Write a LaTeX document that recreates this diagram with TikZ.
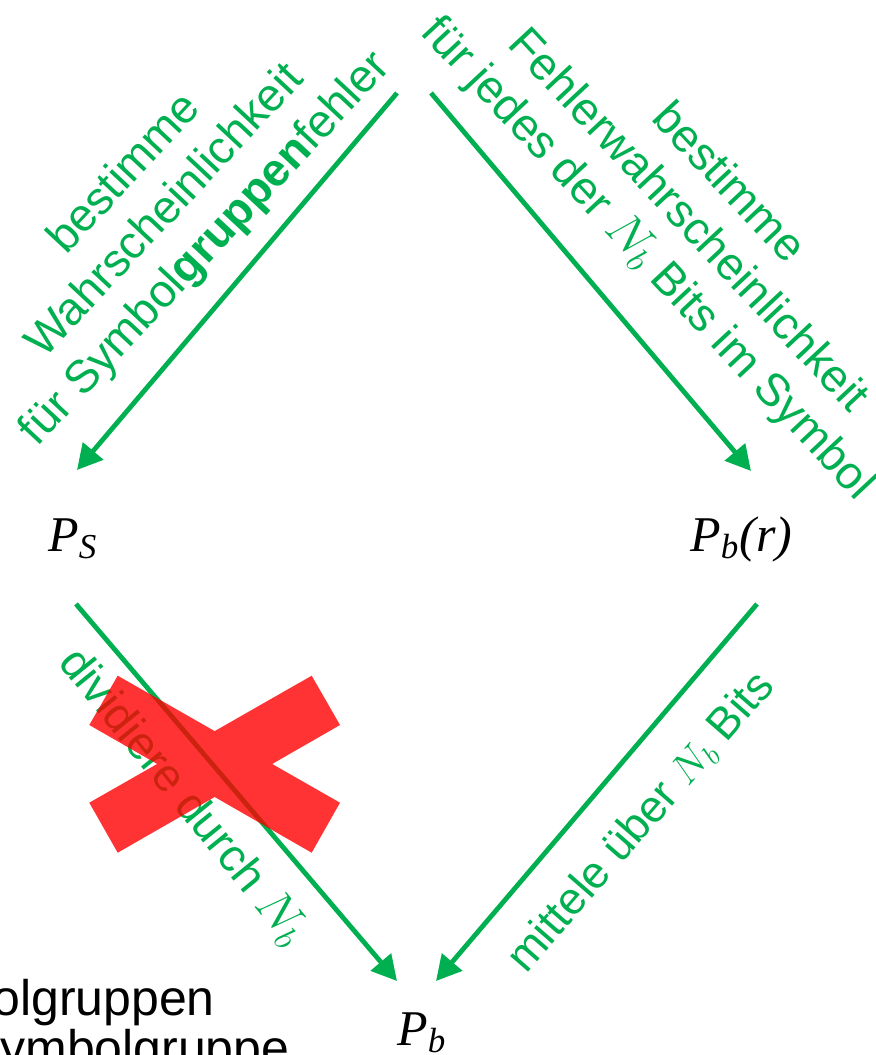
\documentclass[tikz,border=0pt]{standalone}
\usepackage{fontspec}
\setmainfont{Liberation Sans}
\newfontfamily\timesfont{Liberation Serif}
\usetikzlibrary{arrows.meta}
\definecolor{offgreen}{RGB}{0,176,80}
\newcommand{\prb}[2]{{\timesfont\itshape #1\textsubscript{#2}}}

\begin{document}
\begin{tikzpicture}[
  x=0.5pt, y=-0.5pt,
  every node/.style = {inner sep=0pt},
  note/.style = {text=offgreen, align=center, font=\fontsize{23}{27.5}\selectfont},
  prob/.style = {anchor=base west, font=\fontsize{25}{30}\selectfont},
  cut/.style = {anchor=base west, font=\fontsize{25}{30}\selectfont},
  flow/.style = {draw=offgreen, line width=2.4pt, -{Triangle[length=12.5pt, width=13pt]}},
]
  \useasboundingbox (0,0) rectangle (876,1055);

  \node[prob] (ps) at (48,551) {\prb{P}{S}};
  \node[prob] (pbr) at (690,551) {\prb{P}{b}{\timesfont\itshape(r)}};
  \node[prob] (pb) at (397,1045) {\prb{P}{b}};

  \coordinate (tl) at (397,93);
  \coordinate (tr) at (431,93);

  \draw[flow] (tl) -- ([shift={(29,-81)}]ps.base west);
  \draw[flow] (tr) -- ([shift={(61,-80)}]pbr.base west);
  \draw[flow] ([shift={(28,53)}]ps.base west) -- ([shift={(0,-64)}]pb.base west);
  \draw[flow] ([shift={(67,53)}]pbr.base west) -- ([shift={(39,-64)}]pb.base west);

  \node[note, rotate=47] (symgroup) at (166,212) {bestimme\\Wahrscheinlichkeit\\für Symbol\textbf{gruppen}fehler};
  \node[note, rotate=-47] (biterr) at (687,222) {bestimme\\Fehlerwahrscheinlichkeit\\für jedes der $N_b$ Bits im Symbol};
  \node[note, rotate=-51] (divide) at (183,797) {dividiere durch $N_b$};
  \node[note, rotate=49, font=\fontsize{22.5}{27}\selectfont] (average) at (641,822) {mittele über $N_b$ Bits};

  \node[cut] (cut1) at (-8,1015) {olgruppen};
  \node[cut] (cut2) at (0,1065) {ymbolgruppe};

  % crossed out
  \fill[red, fill opacity=0.8]
    (117.7,675.7) -- (340,802.7) -- (311.7,852.7) -- (89.3,725) -- cycle
    (89.3,802.7) -- (311.7,675.7) -- (340,725) -- (117.7,852.7) -- cycle;
\end{tikzpicture}
\end{document}
